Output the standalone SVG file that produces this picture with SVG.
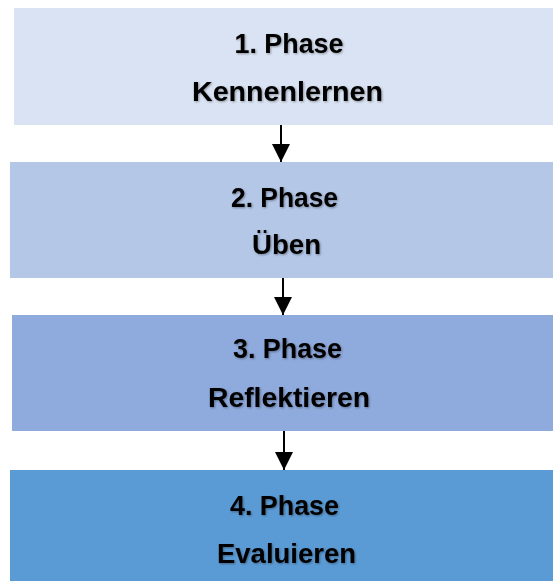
<svg xmlns="http://www.w3.org/2000/svg" width="553" height="581" viewBox="0 0 553 581">
<style>
.lbl{font-family:"Liberation Sans",Arial,sans-serif;font-weight:bold;font-size:27px;fill:#000;text-anchor:middle;filter:url(#sh)}
.conn{stroke:#000;stroke-width:2;fill:none;marker-end:url(#ah)}
</style>
<defs>
<filter id="sh" x="-10%" y="-30%" width="120%" height="160%">
<feDropShadow dx="1" dy="1" stdDeviation="1" flood-color="#000" flood-opacity="0.35"/>
</filter>
<marker id="ah" markerUnits="userSpaceOnUse" markerWidth="20" markerHeight="20" refX="18" refY="9" orient="auto">
<polygon points="0,0 18,9 0,18" fill="#000"/>
</marker>
</defs>
<rect width="553" height="581" fill="#fff"/>
<g id="connectors">
<line class="conn" x1="281" y1="122" x2="281" y2="162"/>
<line class="conn" x1="283" y1="275" x2="283" y2="315"/>
<line class="conn" x1="284" y1="430" x2="284" y2="470"/>
</g>
<g id="phase1">
<rect x="14" y="8" width="550" height="117" fill="#DAE3F3"/>
<text class="lbl" x="289" y="53" textLength="109" lengthAdjust="spacingAndGlyphs">1. Phase</text>
<text class="lbl" x="287.5" y="101" textLength="191" lengthAdjust="spacingAndGlyphs">Kennenlernen</text>
</g>
<g id="phase2">
<rect x="10" y="162" width="550" height="116" fill="#B4C7E7"/>
<text class="lbl" x="284.5" y="207" textLength="107" lengthAdjust="spacingAndGlyphs">2. Phase</text>
<text class="lbl" x="286.5" y="254" textLength="69" lengthAdjust="spacingAndGlyphs">Üben</text>
</g>
<g id="phase3">
<rect x="12" y="315" width="550" height="116" fill="#8FAADC"/>
<text class="lbl" x="287.5" y="358" textLength="109" lengthAdjust="spacingAndGlyphs">3. Phase</text>
<text class="lbl" x="289" y="407" textLength="162" lengthAdjust="spacingAndGlyphs">Reflektieren</text>
</g>
<g id="phase4">
<rect x="10" y="470" width="550" height="111" fill="#5B9BD5"/>
<text class="lbl" x="284.5" y="515" textLength="109" lengthAdjust="spacingAndGlyphs">4. Phase</text>
<text class="lbl" x="286.5" y="563" textLength="139" lengthAdjust="spacingAndGlyphs">Evaluieren</text>
</g>
</svg>
